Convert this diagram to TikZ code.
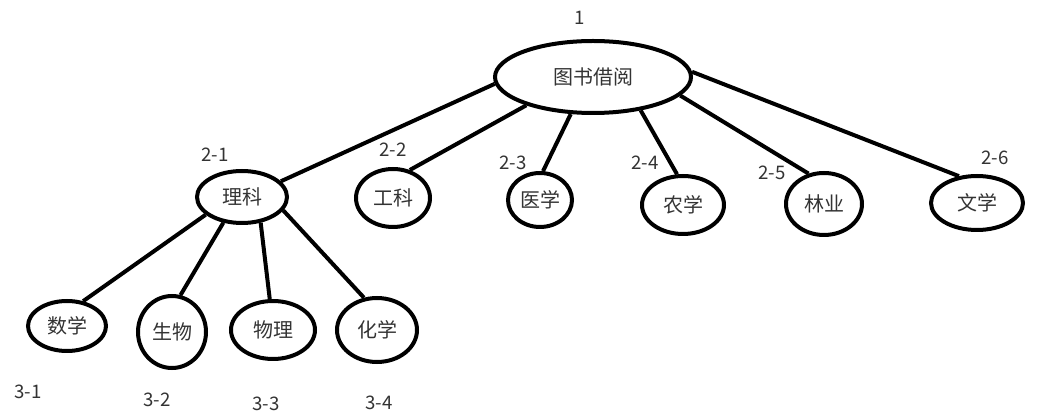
\documentclass[tikz,border=0pt]{standalone}
\usepackage{fontspec}
\setmainfont{Noto Sans CJK SC}
\usetikzlibrary{shapes.geometric}
\begin{document}
\begin{tikzpicture}[x=0.75pt,y=-0.75pt,
  ell/.style 2 args={draw=black,line width=3pt,ellipse,inner sep=0pt,
    minimum width={#1*0.75pt},minimum height={#2*0.75pt},
    font=\fontsize{15}{17}\selectfont,text=black!80},
  lbl/.style={font=\fontsize{14}{16}\selectfont,text=black!80,inner sep=0pt},
  link/.style={line width=3pt}]
\useasboundingbox (0,0) rectangle (1064,416);
\node[ell={196}{72}] (root) at (593,77) {图书借阅};
\node[ell={90}{52}] (like) at (242,197) {理科};
\node[ell={74}{58}] (gongke) at (393,198) {工科};
\node[ell={64}{54}] (yixue) at (540,200) {医学};
\node[ell={82}{58}] (nongxue) at (683,205) {农学};
\node[ell={76}{62}] (linye) at (824,204) {林业};
\node[ell={92}{54}] (wenxue) at (977,203) {文学};
\node[ell={78}{50}] (shuxue) at (67,326) {数学};
\node[ell={68}{72}] (shengwu) at (172,332) {生物};
\node[ell={84}{58}] (wuli) at (273,330) {物理};
\node[ell={80}{64}] (huaxue) at (377,330) {化学};
\node[lbl] (l1) at (580,18) {1};
\node[lbl] (l21) at (215,155) {2-1};
\node[lbl] (l22) at (393,150) {2-2};
\node[lbl] (l23) at (513,163) {2-3};
\node[lbl] (l24) at (645,163) {2-4};
\node[lbl] (l25) at (772,173) {2-5};
\node[lbl] (l26) at (995,158) {2-6};
\node[lbl] (l31) at (28,392) {3-1};
\node[lbl] (l32) at (157,400) {3-2};
\node[lbl] (l33) at (266,404) {3-3};
\node[lbl] (l34) at (379,403) {3-4};
\draw[link] (root.184) -- (like.22);
\draw[link] (root.203) -- (gongke.59);
\draw[link] (root.239) -- (yixue.84);
\draw[link] (root.325) -- (nongxue.101);
\draw[link] (root.348) -- (linye.117);
\draw[link] (root.3) -- (wenxue.124);
\draw[link] (like.206) -- (shuxue.57);
\draw[link] (like.234) -- (shengwu.77);
\draw[link] (like.306) -- (wuli.96);
\draw[link] (like.342) -- (huaxue.112);
\end{tikzpicture}
\end{document}
